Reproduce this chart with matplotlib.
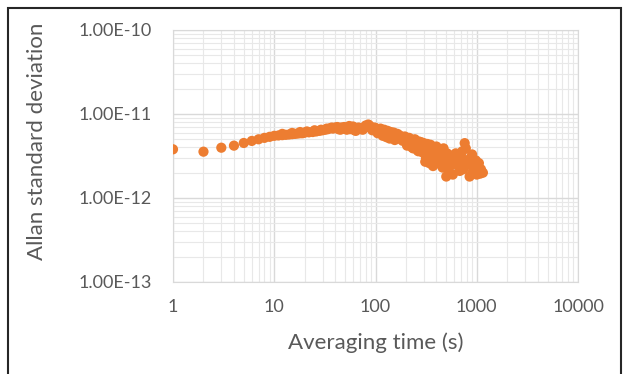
import matplotlib
matplotlib.use("Agg")
import matplotlib.pyplot as plt
from matplotlib.patches import Rectangle

# Allan deviation data (main trace)
tau = [1, 2, 3, 4, 5, 6, 7, 8, 9, 10,
       11, 12, 13, 14, 15, 16, 17, 18, 19, 20,
       22, 24, 26, 28, 30, 32, 34, 36, 38, 40,
       43, 46, 49, 52, 55, 58, 62, 66, 70, 75,
       80, 85, 90, 95, 100, 105, 110, 115, 120, 125,
       130, 135, 140, 145, 150, 160, 170, 180, 190, 200,
       210, 220, 230, 240, 250, 260, 270, 280, 290, 300,
       310, 320, 330, 340, 350, 360, 370, 380, 400, 420,
       440, 460, 480, 500, 520, 550, 580, 600, 640, 680,
       720, 760, 800, 850, 900, 950, 1000, 1050, 1100, 1150]
adev_e12 = [3.8, 3.56, 3.97, 4.2, 4.52, 4.78, 5.0, 5.2, 5.35, 5.5,
            5.55, 5.6, 5.65, 5.7, 5.75, 5.8, 5.85, 5.9, 5.9, 6.0,
            6.05, 6.1, 6.2, 6.3, 6.4, 6.5, 6.6, 6.8, 6.7, 6.9,
            6.6, 6.9, 7.0, 6.5, 7.2, 6.9, 6.4, 6.6, 6.8, 6.5,
            7.3, 7.5, 6.9, 6.6, 6.8, 6.3, 6.6, 6.0, 6.2, 5.8,
            6.1, 5.6, 5.9, 5.4, 5.7, 5.3, 5.6, 5.0, 5.3, 4.8,
            5.1, 4.6, 4.0, 4.9, 4.4, 3.7, 4.7, 4.2, 3.5, 4.5,
            2.7, 4.0, 3.3, 2.6, 4.3, 3.8, 2.4, 3.2, 4.1, 2.8,
            3.6, 2.3, 3.0, 1.8, 2.6, 3.2, 1.9, 2.5, 3.0, 2.1,
            3.6, 4.5, 2.8, 1.8, 3.3, 2.4, 1.9, 2.6, 2.2, 2.0]

# points filling out the scatter of the band
tau_extra = [12, 15, 18, 21, 25, 29, 33, 37, 42, 45,
             48, 53, 56, 60, 64, 68, 72, 78, 83, 88,
             93, 98, 105, 112, 118, 122, 128, 132, 138, 142,
             152, 155, 165, 175, 185, 195, 205, 215, 235, 245,
             255, 265, 275, 285, 305, 315, 325, 345, 355, 365,
             390, 410, 430, 450, 470, 490, 510, 530, 560, 620,
             660, 700, 740, 780, 820, 870, 920, 980, 1030, 1080]
adev_extra_e12 = [5.8, 5.95, 6.1, 6.2, 6.4, 6.5, 6.7, 6.9, 7.0, 6.5,
                  6.7, 6.9, 6.6, 7.1, 6.3, 6.9, 6.6, 6.9, 7.0, 7.2,
                  6.4, 6.9, 5.9, 6.7, 5.5, 6.5, 5.3, 6.3, 5.1, 6.1,
                  6.0, 4.9, 5.8, 5.5, 4.8, 5.4, 4.2, 5.2, 3.9, 5.0,
                  4.0, 3.6, 3.9, 4.6, 3.8, 3.0, 4.4, 3.5, 2.9, 4.0,
                  3.5, 2.6, 3.3, 2.9, 3.9, 2.4, 3.4, 2.1, 2.7, 3.4,
                  2.6, 3.1, 2.2, 3.9, 2.5, 3.0, 2.1, 2.8, 2.2, 1.95]

adev = [v * 1e-12 for v in adev_e12]
adev_extra = [v * 1e-12 for v in adev_extra_e12]

plt.rcParams['font.family'] = ['Lato', 'DejaVu Sans']
txt = '#595959'
orange = '#ED7D31'

fig = plt.figure(figsize=(6.24, 3.74), dpi=100)
ax = fig.add_axes([173/624, 1 - 282/374, 405/624, 252/374])

ax.scatter(tau, adev, s=54, color=orange, edgecolors='none', zorder=3)
ax.scatter(tau_extra, adev_extra, s=54, color=orange, edgecolors='none', zorder=3)

ax.set_xscale('log')
ax.set_yscale('log')
ax.set_xlim(1, 10000)
ax.set_ylim(1e-13, 1e-10)

ax.set_yticks([1e-13, 1e-12, 1e-11, 1e-10])
ax.set_yticklabels(['1.00E-13', '1.00E-12', '1.00E-11', '1.00E-10'])
ax.set_xticks([1, 10, 100, 1000, 10000])
ax.set_xticklabels(['1', '10', '100', '1000', '10000'])

ax.grid(which='major', color='#d9d9d9', lw=1.0)
ax.grid(which='minor', color='#e8e8e8', lw=0.8)
ax.tick_params(which='both', length=0, labelsize=13, colors=txt)
ax.tick_params(axis='x', pad=12)
ax.tick_params(axis='y', pad=15)
for sp in ax.spines.values():
    sp.set_color('#d9d9d9')

ax.set_xlabel('Averaging time (s)', fontsize=16, color=txt, va='center')
ax.set_ylabel('Allan standard deviation', fontsize=16, color=txt, va='center')
ax.xaxis.set_label_coords(0.5, -0.242)
ax.yaxis.set_label_coords(-0.336, 0.56)

# outer chart border
fig.patches.append(Rectangle((8/624, -0.02), 613/624, 1 - 8/374 + 0.02,
                             transform=fig.transFigure, fill=False,
                             edgecolor='#262626', lw=1.5))

fig.savefig('out.png', dpi=100)
